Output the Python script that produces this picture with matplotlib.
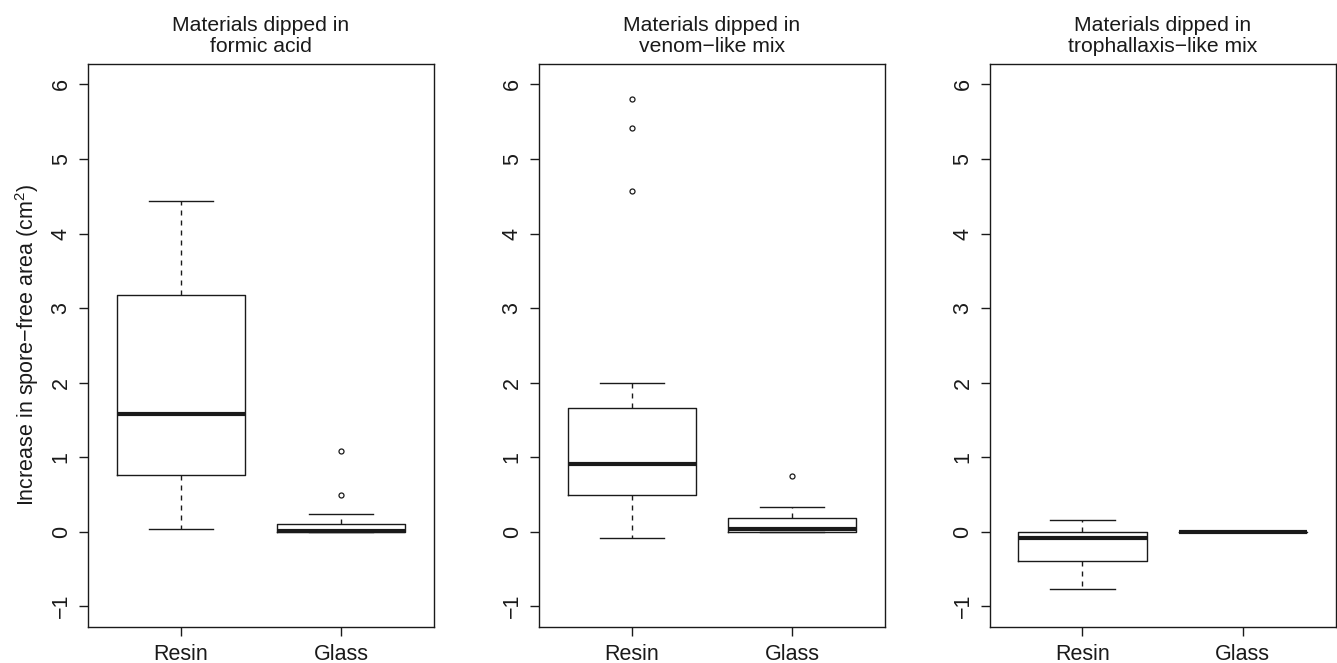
import matplotlib
matplotlib.use("Agg")
import matplotlib.pyplot as plt

plt.rcParams['font.family'] = ['Liberation Sans', 'DejaVu Sans']
plt.rcParams['mathtext.fontset'] = 'custom'
plt.rcParams['mathtext.rm'] = 'Liberation Sans'
plt.rcParams['mathtext.it'] = 'Liberation Sans'
plt.rcParams['mathtext.default'] = 'regular'

groups = ["Resin", "Glass"]
panel_titles = ["Materials dipped in\nformic acid",
                "Materials dipped in\nvenom\u2212like mix",
                "Materials dipped in\ntrophallaxis\u2212like mix"]
y_label = "Increase in spore\u2212free area (cm$^{2}$)"
y_ticks = [-1, 0, 1, 2, 3, 4, 5, 6]

# five-number summaries: lower whisker, Q1, median, Q3, upper whisker
formic_resin = [0.03, 0.76, 1.58, 3.17, 4.43]
formic_resin_out = []
formic_glass = [0.0, 0.0, 0.01, 0.10, 0.24]
formic_glass_out = [0.49, 1.08]

venom_resin = [-0.09, 0.49, 0.91, 1.66, 2.00]
venom_resin_out = [4.57, 5.42, 5.80]
venom_glass = [0.0, 0.0, 0.03, 0.18, 0.33]
venom_glass_out = [0.74]

troph_resin = [-0.77, -0.39, -0.08, 0.0, 0.15]
troph_resin_out = []
troph_glass = [0.0, 0.0, 0.0, 0.0, 0.0]
troph_glass_out = []

panels = [
    [(formic_resin, formic_resin_out), (formic_glass, formic_glass_out)],
    [(venom_resin, venom_resin_out), (venom_glass, venom_glass_out)],
    [(troph_resin, troph_resin_out), (troph_glass, troph_glass_out)],
]


def make_stats(summary, fliers, label):
    lo, q1, med, q3, hi = summary
    return dict(whislo=lo, q1=q1, med=med, q3=q3, whishi=hi,
                fliers=fliers, label=label)


W, H = 1337, 663
fig = plt.figure(figsize=(W / 100, H / 100), dpi=100)

lefts_px = [87.7, 538.7, 989.5]
width_px = 346.3
top_px, bottom_px = 63.6, 627.0

col = "#1a1a1a"
for i, (left, title, data) in enumerate(zip(lefts_px, panel_titles, panels)):
    ax = fig.add_axes([left / W, 1 - bottom_px / H, width_px / W,
                       (bottom_px - top_px) / H])
    stats = [make_stats(s, f, g) for (s, f), g in zip(data, groups)]
    ax.bxp(stats, positions=[1, 2], widths=0.8, showfliers=True,
           boxprops=dict(color=col, lw=1.0),
           whiskerprops=dict(color=col, lw=1.0, linestyle=(0, (3.6, 3.6))),
           capprops=dict(color=col, lw=1.0),
           medianprops=dict(color=col, lw=3.0, solid_capstyle='butt'),
           flierprops=dict(marker='o', markersize=3.6, markerfacecolor='white',
                           markeredgecolor=col, markeredgewidth=0.9,
                           linestyle='none'))
    ax.set_xlim(0.42, 2.58)
    ax.set_ylim(-1.28, 6.28)
    ax.set_yticks(y_ticks)
    ax.set_yticklabels([("\u22121" if t < 0 else str(t)) for t in y_ticks],
                       rotation=90, va='center', fontsize=15.5)
    ax.set_xticks([1, 2])
    ax.set_xticklabels(groups, fontsize=15.5)
    ax.tick_params(axis='both', direction='out', length=6.5, width=1.0,
                   color=col, labelcolor=col)
    ax.tick_params(axis='y', pad=5)
    ax.tick_params(axis='x', pad=6)
    for sp in ax.spines.values():
        sp.set_linewidth(1.0)
        sp.set_color(col)
    ax.set_title(title, fontsize=15.2, color=col, pad=8.5, linespacing=1.15)

fig.text(27 / W, 1 - ((top_px + bottom_px) / 2) / H, y_label, rotation=90,
         ha='center', va='center', fontsize=15.5, color=col)

fig.savefig("out.png", dpi=100)
